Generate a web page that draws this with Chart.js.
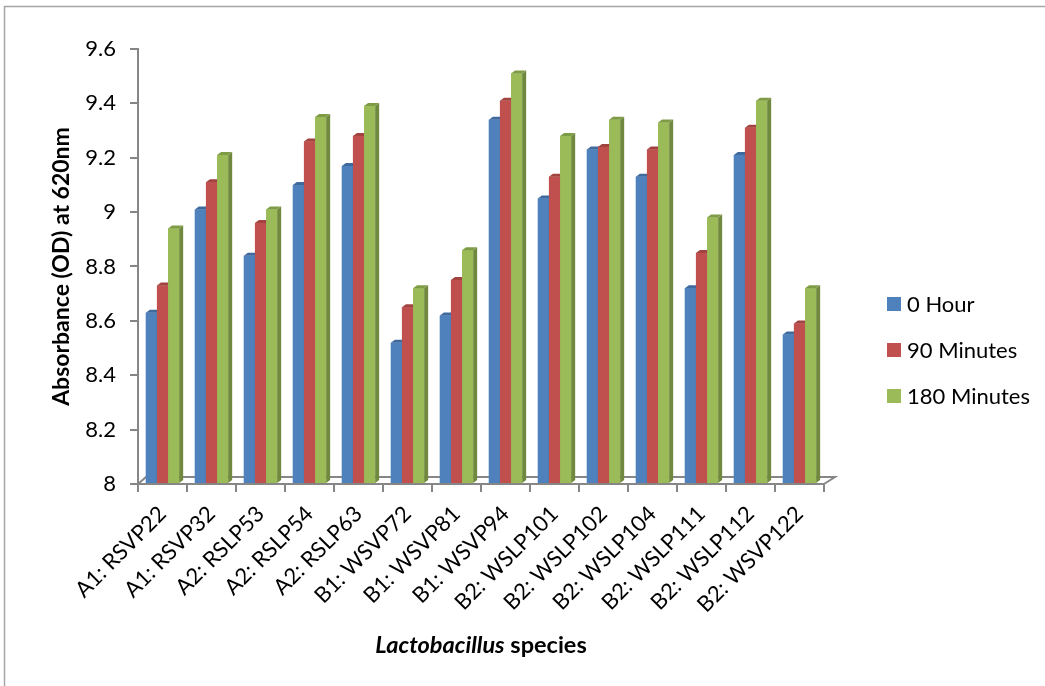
<!DOCTYPE html>
<html>
<head>
<meta charset="utf-8">
<script src="https://cdn.jsdelivr.net/npm/chart.js@4/dist/chart.umd.min.js"></script>
<style>
  html, body { margin: 0; padding: 0; background: #fff; }
  #wrap { width: 1045px; height: 686px; position: relative; }
</style>
</head>
<body>
<div id="wrap"><canvas id="c"></canvas></div>
<script>
const categories = ["A1: RSVP22", "A1: RSVP32", "A2: RSLP53", "A2: RSLP54", "A2: RSLP63", "B1: WSVP72", "B1: WSVP81", "B1: WSVP94", "B2: WSLP101", "B2: WSLP102", "B2: WSLP104", "B2: WSLP111", "B2: WSLP112", "B2: WSVP122"];
const seriesNames = ["0 Hour", "90 Minutes", "180 Minutes"];
const hour0 = [8.63, 9.01, 8.84, 9.10, 9.17, 8.52, 8.62, 9.34, 9.05, 9.23, 9.13, 8.72, 9.21, 8.55];
const min90 = [8.73, 9.11, 8.96, 9.26, 9.28, 8.65, 8.75, 9.41, 9.13, 9.24, 9.23, 8.85, 9.31, 8.59];
const min180 = [8.94, 9.21, 9.01, 9.35, 9.39, 8.72, 8.86, 9.51, 9.28, 9.34, 9.33, 8.98, 9.41, 8.72];
const yTickLabels = ["8", "8.2", "8.4", "8.6", "8.8", "9", "9.2", "9.4", "9.6"];
const yTitle = "Absorbance (OD) at 620nm";
const xTitleItalic = "Lactobacillus";
const xTitleRest = " species";

const FONT = "Lato, 'Open Sans', sans-serif";
const colors = ["#4F81BD", "#C0504D", "#9BBB59"];
const sideColors = ["#385D8A", "#8C3836", "#71893F"];
const topColors = ["#3F6A9E", "#A24340", "#7E9C46"];
const AXIS = "#868686";

const threeD = {
  id: "threeD",
  beforeDraw(chart) {
    const ctx = chart.ctx;
    ctx.save();
    ctx.fillStyle = "#fff";
    ctx.fillRect(0, 0, chart.width, chart.height);
    ctx.strokeStyle = "#A6A6A6";
    ctx.lineWidth = 1.5;
    ctx.strokeRect(4.5, 6.5, chart.width + 10, chart.height + 10);
    ctx.restore();
  },
  beforeDatasetsDraw(chart) {
    const ctx = chart.ctx, a = chart.chartArea;
    ctx.save();
    ctx.strokeStyle = AXIS;
    ctx.lineWidth = 2;
    ctx.beginPath();
    ctx.moveTo(a.left, a.bottom);
    ctx.lineTo(a.left + 8, a.bottom - 7);
    ctx.lineTo(a.right + 11, a.bottom - 7);
    ctx.lineTo(a.right, a.bottom);
    ctx.stroke();
    ctx.restore();
  },
  afterDatasetsDraw(chart) {
    const ctx = chart.ctx;
    const d = 4, dy = 3;
    ctx.save();
    chart.data.datasets.forEach((ds, i) => {
      const meta = chart.getDatasetMeta(i);
      meta.data.forEach(bar => {
        bar.draw(ctx, chart.chartArea);
        const p = bar.getProps(["x", "y", "base", "width"], true);
        const base = Math.min(p.base, chart.chartArea.bottom);
        const l = p.x - p.width / 2, r = p.x + p.width / 2;
        ctx.fillStyle = sideColors[i];
        ctx.beginPath();
        ctx.moveTo(r, p.y);
        ctx.lineTo(r + d, p.y - dy);
        ctx.lineTo(r + d, base - dy);
        ctx.lineTo(r, base);
        ctx.closePath();
        ctx.fill();
        ctx.fillStyle = topColors[i];
        ctx.beginPath();
        ctx.moveTo(l, p.y);
        ctx.lineTo(l + d, p.y - dy);
        ctx.lineTo(r + d, p.y - dy);
        ctx.lineTo(r, p.y);
        ctx.closePath();
        ctx.fill();
      });
    });
    ctx.restore();
  },
  afterDraw(chart) {
    const ctx = chart.ctx, a = chart.chartArea;
    ctx.save();
    ctx.fillStyle = "#000";
    // y title
    ctx.font = "bold 23px " + FONT;
    ctx.textAlign = "center";
    ctx.textBaseline = "middle";
    ctx.translate(62, (a.top + a.bottom) / 2);
    ctx.rotate(-Math.PI / 2);
    ctx.fillText(yTitle, 0, 0);
    ctx.setTransform(1, 0, 0, 1, 0, 0);
    // x title
    const fI = "italic bold 23.5px " + FONT, fR = "bold 23.5px " + FONT;
    ctx.font = fI; const wI = ctx.measureText(xTitleItalic).width;
    ctx.font = fR; const wR = ctx.measureText(xTitleRest).width;
    let x0 = (a.left + a.right) / 2 - (wI + wR) / 2;
    ctx.textAlign = "left";
    ctx.font = fI; ctx.fillText(xTitleItalic, x0, 645);
    ctx.font = fR; ctx.fillText(xTitleRest, x0 + wI, 645);
    // legend
    ctx.font = "22px " + FONT;
    chart.data.datasets.forEach((ds, k) => {
      const cy = 304 + k * 46;
      ctx.fillStyle = colors[k];
      ctx.fillRect(887, cy - 7, 14, 14);
      ctx.fillStyle = "#000";
      ctx.fillText(ds.label, 907, cy + 1);
    });
    ctx.restore();
  }
};

new Chart(document.getElementById("c"), {
  type: "bar",
  data: {
    labels: categories,
    datasets: [
      { label: seriesNames[0], data: hour0, backgroundColor: colors[0] },
      { label: seriesNames[1], data: min90, backgroundColor: colors[1] },
      { label: seriesNames[2], data: min180, backgroundColor: colors[2] }
    ]
  },
  options: {
    responsive: true,
    maintainAspectRatio: false,
    animation: false,
    devicePixelRatio: 1,
    layout: { padding: { left: 0, right: 221, top: 49, bottom: 0 } },
    datasets: { bar: { categoryPercentage: 0.68, barPercentage: 1.0, borderWidth: 0, base: 8 } },
    plugins: { legend: { display: false }, tooltip: { enabled: false } },
    scales: {
      x: {
        grid: { drawOnChartArea: false, tickLength: 8, color: AXIS, lineWidth: 2, offset: true },
        border: { color: AXIS, width: 2 },
        ticks: { color: "#000", font: { family: FONT, size: 22 }, minRotation: 45, maxRotation: 45, padding: 9 },
        afterFit(s) { s.height = 686 - 484; }
      },
      y: {
        min: 8, max: 9.6,
        grid: { drawOnChartArea: false, tickLength: 8, color: AXIS, lineWidth: 2 },
        border: { color: AXIS, width: 2 },
        ticks: {
          stepSize: 0.2, color: "#000", font: { family: FONT, size: 22 }, padding: 14,
          callback(v, idx) { return yTickLabels[idx]; }
        },
        afterFit(s) { s.width = 138; }
      }
    }
  },
  plugins: [threeD]
});
</script>
</body>
</html>
